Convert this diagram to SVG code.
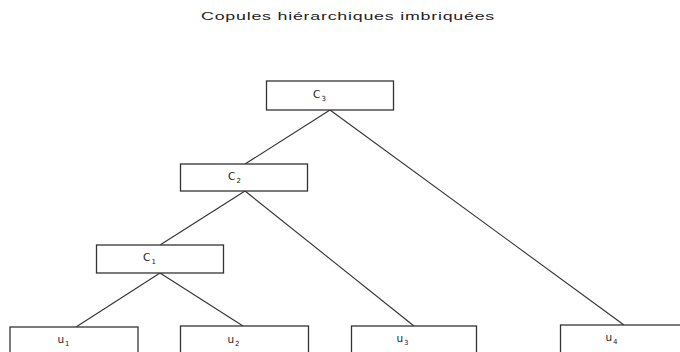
<svg xmlns="http://www.w3.org/2000/svg" width="680" height="352" viewBox="0 0 680 352">
<style>
.box{fill:#fff;stroke:#333;stroke-width:1.3}
.lbl{font-family:"DejaVu Sans",sans-serif;font-size:10.5px;fill:#222;text-anchor:middle;letter-spacing:1px}
.sub{font-size:7px}
.title{font-family:"Liberation Sans",Arial,sans-serif;font-size:11.5px;fill:#222;text-anchor:middle;letter-spacing:0.5px}
.edge{stroke:#333;stroke-width:1.1;fill:none}
</style>
<rect width="680" height="352" fill="#fff"/>
<text class="title" transform="translate(348,20) scale(1.55,1)" x="0" y="0">Copules hiérarchiques imbriquées</text>
<g id="connectors">
<line class="edge" x1="330" y1="110" x2="245" y2="164"/>
<line class="edge" x1="330" y1="110" x2="624" y2="325"/>
<line class="edge" x1="245" y1="191" x2="160" y2="245"/>
<line class="edge" x1="245" y1="191" x2="414" y2="326"/>
<line class="edge" x1="160" y1="273" x2="76" y2="327"/>
<line class="edge" x1="160" y1="273" x2="243" y2="326"/>
</g>
<g id="C3"><rect class="box" x="266.5" y="81" width="127" height="29"/><text class="lbl" x="320" y="98">C<tspan class="sub" dy="3">3</tspan></text></g>
<g id="C2"><rect class="box" x="180.5" y="164" width="127" height="27"/><text class="lbl" x="235" y="180">C<tspan class="sub" dy="3">2</tspan></text></g>
<g id="C1"><rect class="box" x="96.5" y="245" width="127" height="28"/><text class="lbl" x="150" y="261">C<tspan class="sub" dy="3">1</tspan></text></g>
<g id="u1"><rect class="box" x="10" y="327" width="128" height="30"/><text class="lbl" x="64" y="343">u<tspan class="sub" dy="3">1</tspan></text></g>
<g id="u2"><rect class="box" x="180.5" y="326" width="128" height="30"/><text class="lbl" x="234" y="343">u<tspan class="sub" dy="3">2</tspan></text></g>
<g id="u3"><rect class="box" x="351.5" y="326" width="125" height="30"/><text class="lbl" x="403" y="342">u<tspan class="sub" dy="3">3</tspan></text></g>
<g id="u4"><rect class="box" x="560.5" y="325" width="127" height="30"/><text class="lbl" x="612" y="341">u<tspan class="sub" dy="3">4</tspan></text></g>
</svg>
